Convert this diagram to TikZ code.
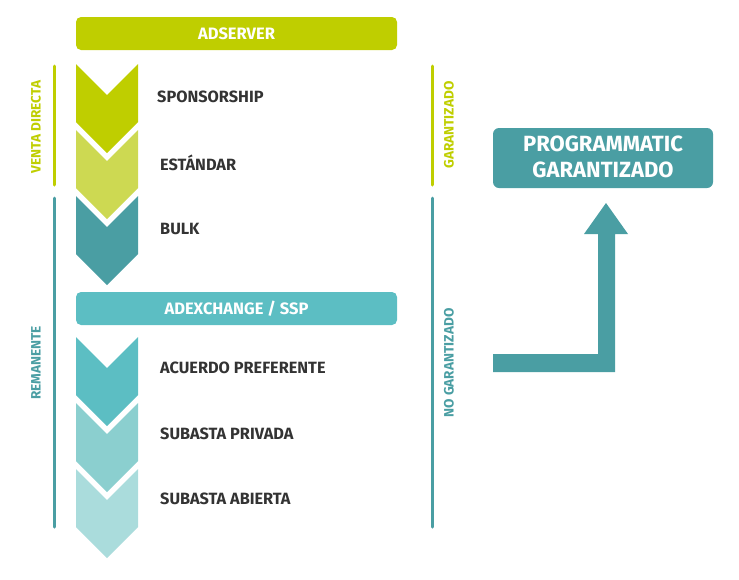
\documentclass[tikz,border=0pt]{standalone}
\usepackage{fontspec}
\setmainfont{Fira Sans}
\definecolor{cgreen}{HTML}{BFCE00}
\definecolor{clight}{HTML}{CDD952}
\definecolor{cteal}{HTML}{4A9EA3}
\definecolor{cssp}{HTML}{5CBEC3}
\definecolor{cpriv}{HTML}{8BCFCF}
\definecolor{copen}{HTML}{AADCDC}
\definecolor{ctext}{HTML}{333333}
\tikzset{
  bar/.style={rounded corners=5pt, inner sep=0pt},
  bartext/.style={text=white, font=\bfseries\fontsize{16.5}{18}\selectfont},
  lbl/.style={anchor=west, text=ctext, inner sep=0pt, font=\bfseries\fontsize{16.3}{18}\selectfont},
  side/.style={rotate=90, inner sep=0pt, font=\bfseries\fontsize{13.6}{15}\selectfont},
  sideline/.style={line width=3pt, line cap=round},
}
\newcommand{\chev}[3]{% #1 top y, #2 color, #3 name
  \fill[#2] (76,#1) -- (107,#1+31) -- (138,#1) -- (138,#1+58) -- (107,#1+89) -- (76,#1+58) -- cycle;
  \coordinate (#3) at (138,#1+34);
}
\begin{document}
\begin{tikzpicture}[x=1pt,y=-1pt]
\useasboundingbox (0,0) rectangle (739,579);
% bars
\fill[cgreen,bar] (76,17) rectangle (397,50);
\node[bartext] (adserver) at (236.5,33.5) {ADSERVER};
\fill[cssp,bar] (76,292) rectangle (397,325);
\node[bartext] (adx) at (236.5,308.5) {ADEXCHANGE / SSP};
% chevrons
\chev{64}{cgreen}{c1}
\chev{130}{clight}{c2}
\chev{196}{cteal}{c3}
\chev{337}{cssp}{c4}
\chev{403}{cpriv}{c5}
\chev{469}{copen}{c6}
% labels
\node[lbl] (l1) at (157,97) {SPONSORSHIP};
\node[lbl] (l2) at (160,163) {ESTÁNDAR};
\node[lbl] (l3) at (160,229) {BULK};
\node[lbl] (l4) at (160,368) {ACUERDO PREFERENTE};
\node[lbl] (l5) at (160,434) {SUBASTA PRIVADA};
\node[lbl] (l6) at (160,499) {SUBASTA ABIERTA};
% side lines
\draw[sideline,cgreen] (54,66) -- (54,185);
\node[side,text=cgreen] (vd) at (36,127) {VENTA DIRECTA};
\draw[sideline,cteal] (54,198) -- (54,527);
\node[side,text=cteal] (rem) at (36,363) {REMANENTE};
\draw[sideline,cgreen] (432,66) -- (432,185);
\node[side,text=cgreen] (gar) at (449,125) {GARANTIZADO};
\draw[sideline,cteal] (432,198) -- (432,527);
\node[side,text=cteal] (nogar) at (449,363) {NO GARANTIZADO};
% programmatic box
\fill[cteal,rounded corners=6pt] (493,128) rectangle (713,188);
\node[text=white, align=center, font=\bfseries\fontsize{22}{26}\selectfont] (prog) at (603,157) {PROGRAMMATIC\\GARANTIZADO};
% arrow
\fill[cteal] (493,354) -- (598,354) -- (598,234) -- (584,234) -- (606,203) -- (628,234) -- (615,234) -- (615,372) -- (493,372) -- cycle;
\end{tikzpicture}
\end{document}
